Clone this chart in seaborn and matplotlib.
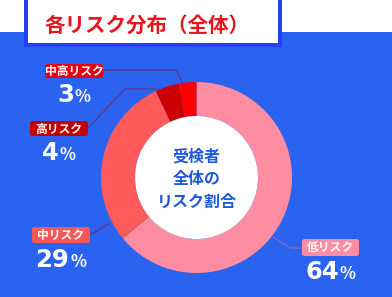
import matplotlib
matplotlib.use('Agg')
import matplotlib.pyplot as plt
import seaborn as sns
from matplotlib.patches import Rectangle, FancyBboxPatch, Circle

# ---- data ----
categories = ['低リスク', '中リスク', '高リスク', '中高リスク']
values = [64, 29, 4, 3]
pct_labels = ['64', '29', '4', '3']
title = '各リスク分布（全体）'
center_text = '受検者\n全体の\nリスク割合'

# ---- style ----
ring_colors = ['#FF8DA1', '#FF5A5A', '#CC0000', '#FF0000']
box_colors = ['#FF8DA1', '#F65858', '#C40000', '#E60012']
bg_blue = '#2963F0'

sns.set_theme(style='white')
plt.rcParams['font.family'] = ['Noto Sans CJK JP', 'DejaVu Sans']

W, H = 392, 297
fig = plt.figure(figsize=(W / 100, H / 100), dpi=100)
fig.patch.set_facecolor(bg_blue)
ax = fig.add_axes([0, 0, 1, 1])


def Y(y):
    return H - y


# donut
cx, cy, R, ring_w = 196.5, Y(177.5), 95.5, 34
ax.pie(values, colors=ring_colors, startangle=90, counterclock=False,
       radius=R, center=(cx, cy),
       wedgeprops=dict(width=ring_w, edgecolor='none', linewidth=0))
ax.add_patch(Circle((cx, cy), R - ring_w, fc='white', ec='none', zorder=3))
ax.set_xlim(0, W)
ax.set_ylim(0, H)
ax.set_aspect('auto')
ax.axis('off')

# top white band and title box
ax.add_patch(Rectangle((0, Y(32)), W, 40, fc='white', ec='none', zorder=0.5))
ax.add_patch(Rectangle((26, Y(45)), 254, 60, fc='white', ec='#2440F5',
                       lw=2.9, zorder=1, clip_on=False))
ax.text(147, Y(25), title, color='#E8141E', fontsize=14.8, fontweight='bold',
        ha='center', va='center', zorder=2)

# center text
ax.text(cx, Y(179), center_text, color='#1E5AD7', fontsize=11.5,
        fontweight='bold', ha='center', va='center', linespacing=1.5,
        zorder=4)

# leader lines (pixel layout)
line_col = '#7B2D6E'
leaders = {
    '中高リスク': [(103, 70), (176, 70), (183, 84)],
    '高リスク': [(88, 128), (125, 89), (157, 89)],
    '中リスク': [(90, 235), (110, 223)],
    '低リスク': [(273, 237), (290, 248), (302, 248)],
}
for name, pts in leaders.items():
    xs = [p[0] for p in pts]
    ys = [Y(p[1]) for p in pts]
    ax.plot(xs, ys, color=line_col if name != '低リスク' else '#A060B0',
            lw=0.8, zorder=2.5, solid_capstyle='butt')

# label boxes and percentages
boxes = {
    '中高リスク': (45, 64, 103, 78, 102),
    '高リスク': (30, 121, 88, 136, 160),
    '中リスク': (32, 227, 90, 243, 267),
    '低リスク': (302, 239, 359, 256, 279),
}
fig.canvas.draw()
renderer = fig.canvas.get_renderer()
for cat, pct, bc in zip(categories, pct_labels, box_colors):
    x0, y0, x1, y1, base = boxes[cat]
    ax.add_patch(FancyBboxPatch((x0 + 1.5, Y(y1) + 1.5), x1 - x0 - 3, y1 - y0 - 3,
                                boxstyle='round,pad=1.5,rounding_size=2.5',
                                fc=bc, ec='none', zorder=5))
    bx = (x0 + x1) / 2
    ax.text(bx, Y((y0 + y1) / 2) - 0.5, cat, color='white', fontsize=8.5,
            fontweight='bold', ha='center', va='center', zorder=6)
    t1 = ax.text(0, Y(base), pct, color='white', fontsize=17.5,
                 fontweight='bold', family=['DejaVu Sans'],
                 ha='left', va='baseline', zorder=6)
    t2 = ax.text(0, Y(base), '%', color='white', fontsize=12,
                 fontweight='bold', family=['Noto Sans CJK JP', 'DejaVu Sans'],
                 ha='left', va='baseline', zorder=6)
    w1 = t1.get_window_extent(renderer).width
    w2 = t2.get_window_extent(renderer).width
    gap = 1
    start = bx - (w1 + gap + w2) / 2
    t1.set_x(start)
    t2.set_x(start + w1 + gap)

fig.savefig('out.png', dpi=100, facecolor=fig.get_facecolor())
